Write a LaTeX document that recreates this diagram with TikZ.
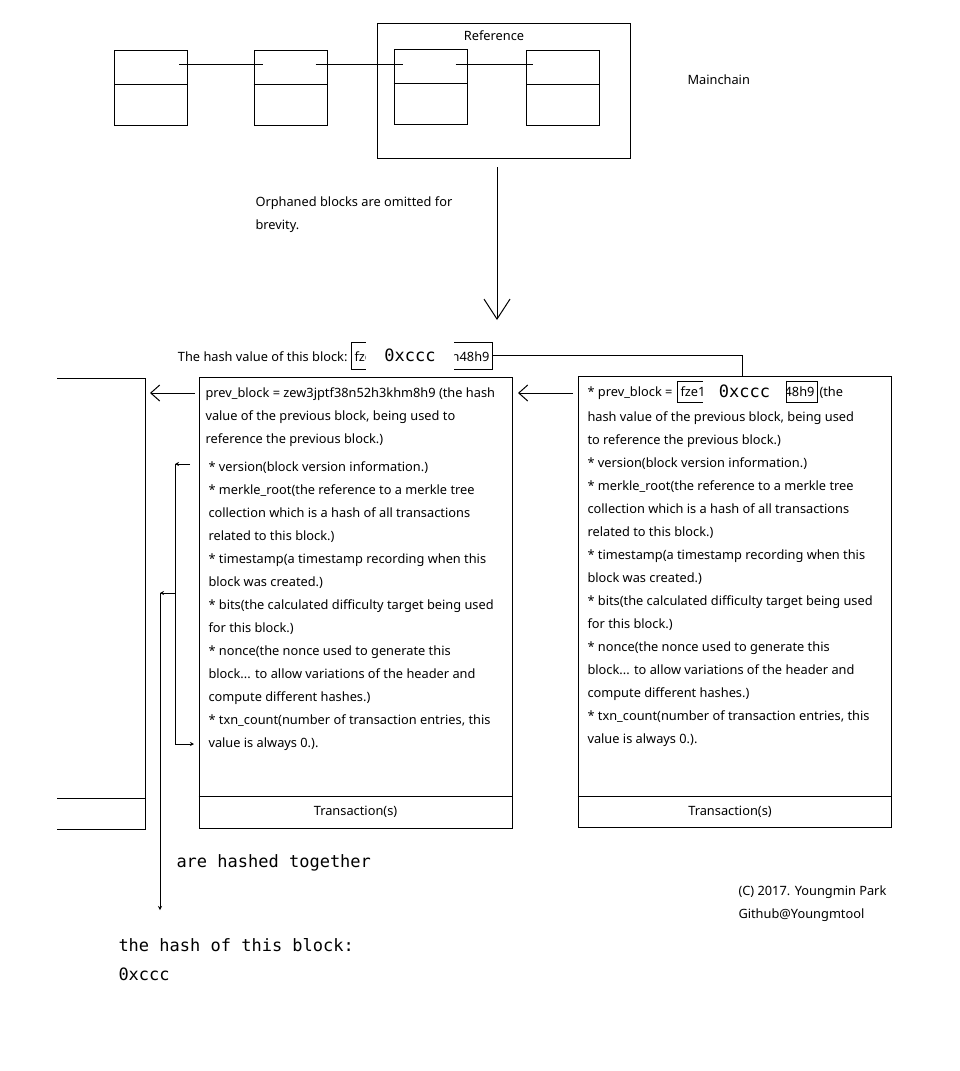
\documentclass[tikz,border=0pt]{standalone}
\usepackage{fontspec}
\setmainfont{Noto Sans}
\setmonofont{DejaVu Sans Mono}
\usetikzlibrary{arrows.meta,positioning}

\begin{document}
\begin{tikzpicture}[x=1pt,y=-1pt,line width=1pt,
  block/.style={draw,shape=rectangle,minimum width=73pt,minimum height=75pt,inner sep=0pt},
  header/.style={draw,shape=rectangle,minimum width=313pt,minimum height=451pt,inner sep=0pt},
  txt/.style={inner sep=0pt,align=left,anchor=north west,font=\fontsize{12.8}{23}\selectfont},
  word/.style={inner sep=0pt,font=\fontsize{12.8}{23}\selectfont},
  mono/.style={inner sep=0pt,align=left,font=\ttfamily\fontsize{17}{29}\selectfont},
  hashmask/.style={fill=white,inner sep=0pt,font=\ttfamily\fontsize{17}{20}\selectfont},
  barb/.style={-{Straight Barb[length=9pt,width=16pt]}},
  tip/.style={-{Stealth[length=4pt,width=4pt]}}]
\useasboundingbox (0,0) rectangle (960,1071);

% mainchain
\node (refbox) at (503.5,90.5) [draw,shape=rectangle,minimum width=253pt,minimum height=135pt] {};
\node (reflabel) at (494,36) [word] {Reference};
\node (mainchain) at (687,80) [word,anchor=west] {Mainchain};

\node (blka) at (151,87.5) [block] {};
\node (blkb) at (290.5,87.5) [block] {};
\node (blkc) at (430.5,86.5) [block] {};
\node (blkd) at (563,87.5) [block] {};

\foreach \b in {blka,blkb,blkc,blkd}
  \draw ([yshift=-35pt]\b.north west) -- ([yshift=-35pt]\b.north east);

\draw ([shift={(-9pt,-15pt)}]blka.north east) -- ([shift={(9pt,-15pt)}]blkb.north west);
\draw ([shift={(-12pt,-15pt)}]blkb.north east) -- ([shift={(9pt,-16pt)}]blkc.north west);
\draw ([shift={(-12pt,-16pt)}]blkc.north east) -- ([shift={(7pt,-15pt)}]blkd.north west);

\coordinate (omitfrom) at (497,167);
\coordinate (omitto) at (497,320);
\draw [-{Straight Barb[length=20pt,width=26pt]}] (omitfrom) -- (omitto);
\node (omitnote) at (255,196) [txt] {Orphaned blocks are omitted for\\brevity.};

% this block
\node (hashlabel) at (348,361.5) [word,anchor=base east] {The hash value of this block:};
\node (hashbox) at (421.5,355.5) [draw,shape=rectangle,minimum width=141pt,minimum height=27pt] {};
\node (hashhead) at (354,361.5) [word,anchor=base west] {fze1};
\node (hashtail) at (490,361.5) [word,anchor=base east] {h48h9};
\node (hashcode) at (410,355.5) [hashmask,minimum width=88pt,minimum height=34pt] {0xccc};

\node (curblk) at (355.5,602.5) [header] {};
\draw ([yshift=32pt]curblk.south west) -- ([yshift=32pt]curblk.south east);
\node (curtxn) at (355.5,812) [word] {Transaction(s)};
\node (curprev) at (205,387) [txt] {prev\_block = zew3jptf38n52h3khm8h9 (the hash\\value of the previous block, being used to\\reference the previous block.)};
\node (curfields) at (208,461.5) [txt] {* version(block version information.)\\* merkle\_root(the reference to a merkle tree\\collection which is a hash of all transactions\\related to this block.)\\* timestamp(a timestamp recording when this\\block was created.)\\* bits(the calculated difficulty target being used\\for this block.)\\* nonce(the nonce used to generate this\\block... to allow variations of the header and\\compute different hashes.)\\* txn\_count(number of transaction entries, this\\value is always 0.).};

% next block
\node (nextblk) at (734.5,602) [header] {};
\draw ([yshift=32pt]nextblk.south west) -- ([yshift=32pt]nextblk.south east);
\node (nexttxn) at (730,812) [word] {Transaction(s)};
\node (nexthead) at (587,396) [word,anchor=base west] {* prev\_block =};
\node (nexthashbox) at (747,391.5) [draw,shape=rectangle,minimum width=140pt,minimum height=21pt] {};
\node (nexthashhead) at (680,396) [word,anchor=base west] {fze1};
\node (nexthashtail) at (815,396) [word,anchor=base east] {48h9};
\node (nextcode) at (744.5,391.5) [hashmask,minimum width=83pt,minimum height=27pt] {0xccc};
\draw (nextcode.east |- nexthashbox.north) -- (nextcode.east |- nexthashbox.south);
\node (nextthe) at (819,396) [word,anchor=base west] {(the};
\node (nextfields) at (587,411) [txt] {hash value of the previous block, being used\\to reference the previous block.)\\* version(block version information.)\\* merkle\_root(the reference to a merkle tree\\collection which is a hash of all transactions\\related to this block.)\\* timestamp(a timestamp recording when this\\block was created.)\\* bits(the calculated difficulty target being used\\for this block.)\\* nonce(the nonce used to generate this\\block... to allow variations of the header and\\compute different hashes.)\\* txn\_count(number of transaction entries, this\\value is always 0.).};

\coordinate (nextjoin) at (742,376.5);
\draw (hashbox.east) -| (nextjoin);

% previous block
\draw (57,378) -- (145,378) -- (145,829) -- (57,829);
\draw (57,798) -- (145,798);

\coordinate (curref) at (195,393);
\coordinate (prevpt) at (150,393);
\draw [barb] (curref) -- (prevpt);
\coordinate (nextref) at (573,393);
\coordinate (curpt) at (518,393);
\draw [barb] (nextref) -- (curpt);

% hashed fields
\coordinate (hdrtop) at (190,464);
\coordinate (hdrtopc) at (175,464);
\coordinate (hdrbot) at (175,744);
\coordinate (hdrbotend) at (194,744);
\draw [tip] (hdrtop) -- (hdrtopc);
\draw (hdrtopc) -- (hdrbot);
\draw [tip] (hdrbot) -- (hdrbotend);
\coordinate (hdrmid) at (175,593);
\coordinate (hdrmidc) at (160,593);
\coordinate (hashout) at (160,910);
\draw [tip] (hdrmid) -- (hdrmidc);
\draw [tip] (hdrmidc) -- (hashout);

\node (hashedlabel) at (176,867) [mono,anchor=base west] {are hashed together};
\node (hashresult) at (118,938) [mono,anchor=north west] {the hash of this block:\\0xccc};

\node (copyright) at (738,885) [txt] {(C) 2017. Youngmin Park\\Github@Youngmtool};
\end{tikzpicture}
\end{document}
